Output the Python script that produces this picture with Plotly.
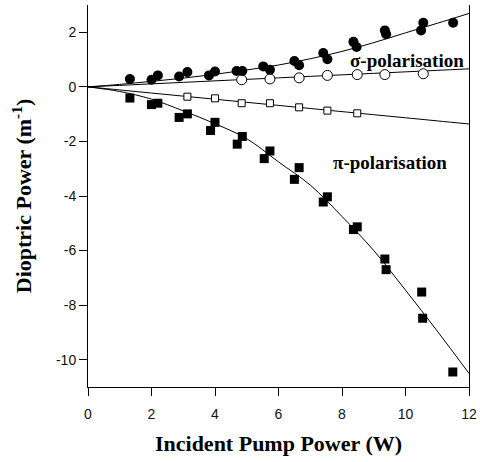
import plotly.graph_objects as go

# Filled circles (upper data set)
sigma_fill_x = [1.32, 2.0, 2.2, 2.87, 3.13, 3.81, 4.0, 4.68, 4.86, 5.52, 5.73, 6.5, 6.65,
                7.41, 7.54, 8.36, 8.46, 9.35, 9.39, 10.49, 10.56, 11.5]
sigma_fill_y = [0.29, 0.26, 0.42, 0.38, 0.54, 0.42, 0.56, 0.58, 0.58, 0.75, 0.63, 0.95, 0.79,
                1.24, 1.01, 1.65, 1.46, 2.07, 1.93, 2.07, 2.35, 2.35]
# Open circles
sigma_open_x = [4.84, 5.73, 6.65, 7.54, 8.48, 9.35, 10.56]
sigma_open_y = [0.26, 0.29, 0.33, 0.42, 0.45, 0.45, 0.48]
# Open squares
pi_open_x = [3.13, 4.0, 4.84, 5.73, 6.65, 7.54, 8.48]
pi_open_y = [-0.36, -0.42, -0.6, -0.6, -0.75, -0.87, -0.97]
# Filled squares
pi_fill_x = [1.32, 2.0, 2.2, 2.87, 3.13, 3.86, 4.0, 4.7, 4.86, 5.55, 5.73, 6.5, 6.65,
             7.41, 7.54, 8.36, 8.48, 9.35, 9.39, 10.51, 10.54, 11.49]
pi_fill_y = [-0.41, -0.65, -0.6, -1.12, -0.99, -1.6, -1.3, -2.1, -1.82, -2.63, -2.35, -3.39, -2.96,
             -4.22, -4.03, -5.23, -5.13, -6.31, -6.7, -7.52, -8.48, -10.45]

# Fitted curves
fit_x = [0, 1, 2, 3, 4, 5, 6, 7, 8, 9, 10, 11, 12]
fit_sigma_fill = [0, 0.09, 0.2, 0.32, 0.46, 0.62, 0.8, 1.03, 1.3, 1.62, 1.98, 2.33, 2.69]
fit_sigma_open = [0, 0.055, 0.11, 0.165, 0.22, 0.275, 0.33, 0.385, 0.44, 0.495, 0.55, 0.605, 0.66]
fit_pi_open = [0, -0.113, -0.227, -0.34, -0.453, -0.567, -0.68, -0.793, -0.907, -1.02, -1.133, -1.247, -1.36]
fit_pi_fill = [0, -0.17, -0.45, -0.88, -1.35, -1.9, -2.75, -3.6, -4.75, -6.0, -7.45, -8.95, -10.5]

x_ticks = [0, 2, 4, 6, 8, 10, 12]
y_ticks = [2, 0, -2, -4, -6, -8, -10]

fig = go.Figure()
for fy in [fit_sigma_fill, fit_sigma_open, fit_pi_open, fit_pi_fill]:
    fig.add_trace(go.Scatter(x=fit_x, y=fy, mode="lines", line=dict(color="black", width=1, shape="spline"),
                             showlegend=False, hoverinfo="skip"))

fig.add_trace(go.Scatter(x=sigma_open_x, y=sigma_open_y, mode="markers",
                         marker=dict(symbol="circle", size=10, color="white", line=dict(color="black", width=1)),
                         showlegend=False))
fig.add_trace(go.Scatter(x=pi_open_x, y=pi_open_y, mode="markers",
                         marker=dict(symbol="square", size=7, color="white", line=dict(color="black", width=1)),
                         showlegend=False))
fig.add_trace(go.Scatter(x=sigma_fill_x, y=sigma_fill_y, mode="markers",
                         marker=dict(symbol="circle", size=10, color="black", line=dict(width=0)),
                         showlegend=False))
fig.add_trace(go.Scatter(x=pi_fill_x, y=pi_fill_y, mode="markers",
                         marker=dict(symbol="square", size=9, color="black", line=dict(width=0)),
                         showlegend=False))

serif = "Liberation Serif, Times New Roman, serif"
sans = "Liberation Sans, Arial, sans-serif"

fig.add_annotation(x=10.05, y=0.96, text="<b>σ-polarisation</b>", showarrow=False,
                   font=dict(family=serif, size=19, color="black"))
fig.add_annotation(x=9.5, y=-2.76, text="<b>π-polarisation</b>", showarrow=False,
                   font=dict(family=serif, size=19, color="black"))

fig.update_layout(
    width=480, height=462,
    margin=dict(l=88, r=11, t=5, b=75),
    plot_bgcolor="white", paper_bgcolor="white",
    xaxis=dict(range=[0, 12], tickvals=x_ticks, ticktext=[str(v) for v in x_ticks], automargin=False,
               showgrid=False, zeroline=False, showline=True, linecolor="black", linewidth=1,
               ticks="outside", ticklen=8, tickcolor="black", tickwidth=1, ticklabelstandoff=6,
               tickfont=dict(family=sans, size=14, color="#111"),
               title=dict(text="<b>Incident Pump Power (W)</b>", font=dict(family=serif, size=22, color="black"),
                          standoff=14)),
    yaxis=dict(range=[-11, 3], tickvals=y_ticks, ticktext=[str(v) for v in y_ticks], automargin=False,
               showgrid=False, zeroline=False, showline=True, linecolor="black", linewidth=1, mirror=True,
               ticks="outside", ticklen=8, tickcolor="black", tickwidth=1,
               tickfont=dict(family=sans, size=14, color="#111"),
               title=dict(text="<b>Dioptric Power (m<sup>-1</sup>)</b>", font=dict(family=serif, size=22, color="black"),
                          standoff=18)),
)

fig.write_html("out.html", config={"displayModeBar": False},
               post_script="document.body.style.margin='0';document.body.style.overflow='hidden';")
